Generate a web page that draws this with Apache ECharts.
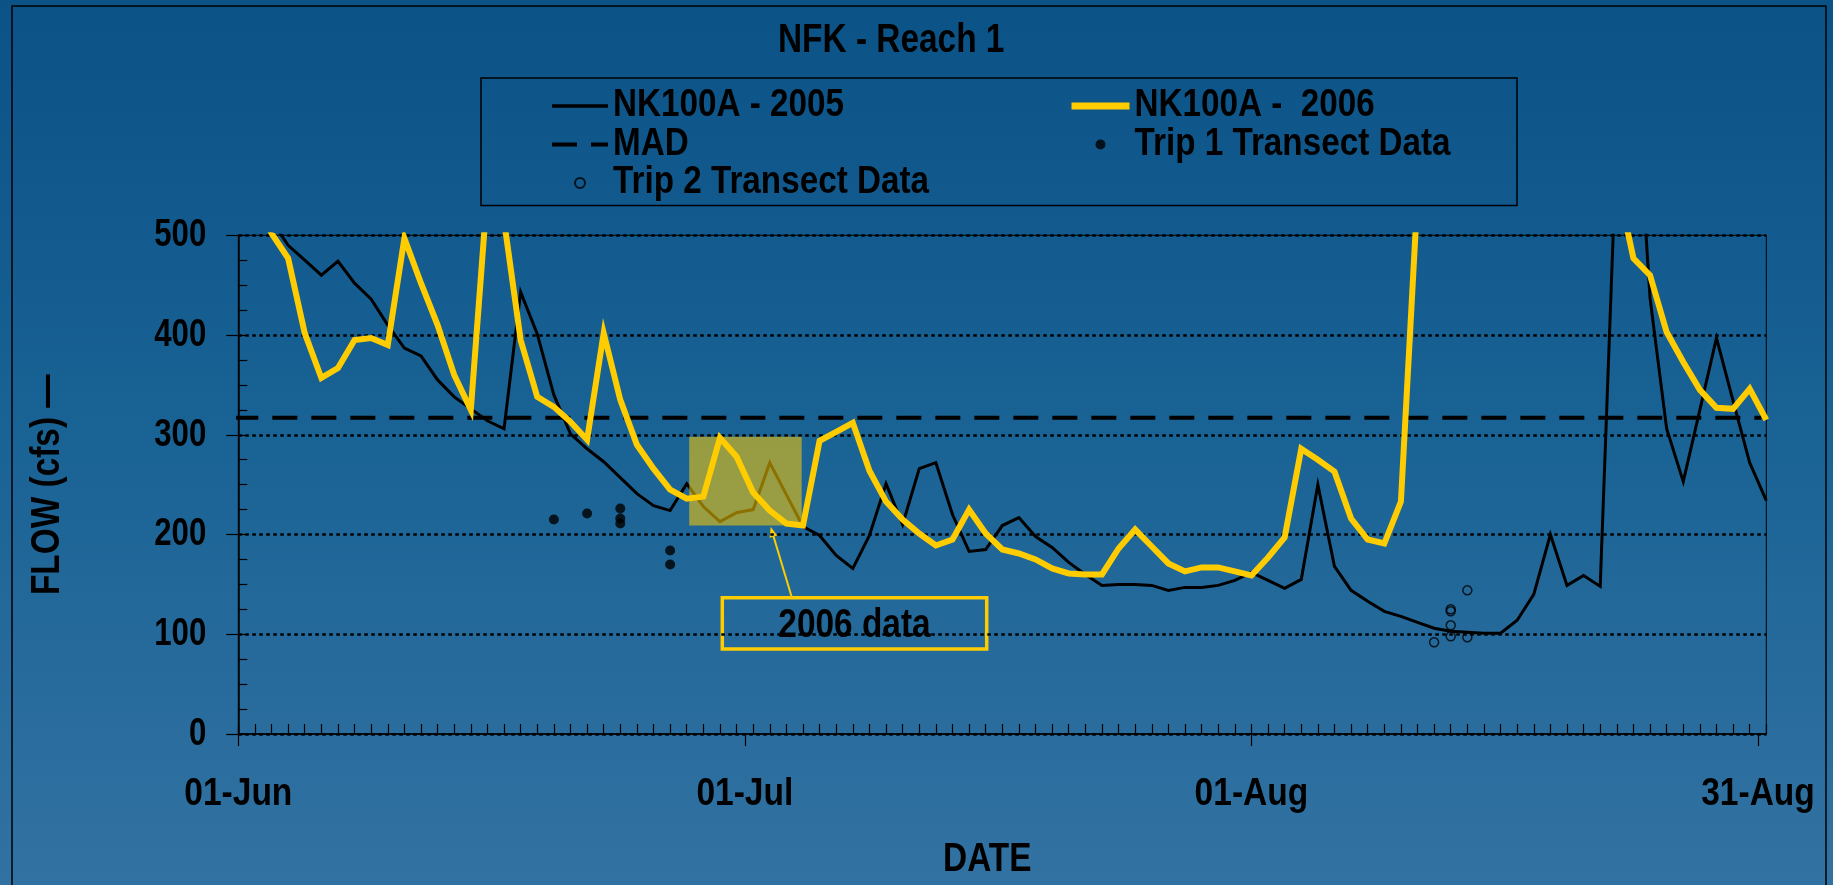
<!DOCTYPE html>
<html>
<head>
<meta charset="utf-8">
<title>NFK - Reach 1</title>
<script src="https://cdn.jsdelivr.net/npm/echarts@6.0.0/dist/echarts.min.js"></script>
<style>
  html, body { margin: 0; padding: 0; width: 100%; height: 100%; overflow: hidden; }
  #chart { width: 1833px; height: 885px; }
</style>
</head>
<body>
<div id="chart"></div>
<script>
// Daily flow (cfs), index 0 = 1 June, index 92 = 1 September
const FLOW_2005 = [
  560, 540, 515, 490, 475, 460, 474, 452, 436, 410,
  387, 379, 355, 338, 326, 314, 306, 443, 401, 340,
  301, 286, 273, 257, 241, 229, 224, 251, 228, 213,
  222, 225, 272, 240, 208, 199, 179, 166, 199, 251,
  210, 266, 272, 220, 183, 185, 209, 217, 198, 187,
  172, 160, 149, 150, 150, 149, 144, 147, 147, 149,
  154, 162, 154, 146, 155, 250, 168, 144, 133, 123,
  118, 112, 106, 103, 102, 101, 101, 114, 140, 200,
  149, 159, 148, 600, 700, 437, 306, 253, 325, 397,
  334, 272, 234
];
const FLOW_2006 = [
  580, 540, 502, 477, 402, 357, 367, 395, 397, 390,
  497, 452, 410, 360, 325, 545, 515, 395, 338, 328,
  313, 295, 402, 335, 290, 266, 245, 236, 238, 297,
  278, 242, 224, 211, 209, 294, 303, 312, 264, 233,
  215, 201, 189, 195, 225, 201, 185, 181, 175, 166,
  161, 160, 160, 186, 205, 188, 171, 163, 167, 167,
  163, 159, 177, 197, 286, 275, 263, 216, 195, 191,
  233, 540, 760, 880, 920, 870, 800, 740, 690, 650,
  620, 600, 575, 554, 477, 460, 403, 373, 345, 327,
  326, 346, 315
];

// Mean annual discharge line and the span it is drawn over (days since 1 June)
const MAD_FLOW = 317;
const MAD_SPAN = [-0.3, 91.7];

// Transect measurements (day since 1 June, flow)
const TRIP1_DAYS = [19, 21, 23, 23, 23, 26, 26];
const TRIP1_FLOW = [215, 221, 226, 216, 211, 184, 170];
const TRIP2_DAYS = [72, 73, 73, 73, 73, 74, 74];
const TRIP2_FLOW = [92, 125, 123, 109, 98, 144, 97];

// Shaded window of 2006 data: [startDay, endDay, lowFlow, highFlow]
const HIGHLIGHT_2006 = [27.15, 33.92, 209, 298];

// Axis ticks
const X_TICKS = [0, 30.5, 61, 91.5];
const X_TICK_LABELS = ['01-Jun', '01-Jul', '01-Aug', '31-Aug'];
const Y_TICK_LABELS = ['0', '100', '200', '300', '400', '500'];

// Series names as shown in the key
const NAME_2005 = 'NK100A - 2005';
const NAME_2006 = 'NK100A -  2006';
const NAME_MAD = 'MAD';
const NAME_TRIP1 = 'Trip 1 Transect Data';
const NAME_TRIP2 = 'Trip 2 Transect Data';

const FONT = "'Liberation Sans', Arial, sans-serif";
const BLACK = '#000000';
const GOLD = '#FFCC00';

// Horizontal squeeze that turns the regular face into a narrow one
const NARROW_DEFAULT = 0.835;
const NARROW_LEGEND = 0.875;
const NARROW_X_LABEL = 0.86;
const NARROW_Y_LABEL = 0.8;

const chart = echarts.init(document.getElementById('chart'), null, { renderer: 'canvas' });

const boldText = (size) => ({ color: BLACK, fontFamily: FONT, fontWeight: 'bold', fontSize: size });

const legendBase = {
  orient: 'vertical',
  top: 87,
  padding: 0,
  itemGap: 0.5,
  itemHeight: 10,
  selectedMode: false,
  textStyle: Object.assign(boldText(38), { lineHeight: 38 })
};

const option = {
  animation: false,
  backgroundColor: {
    type: 'linear', x: 0, y: 0, x2: 0, y2: 1,
    colorStops: [
      { offset: 0, color: '#0b5287' },
      { offset: 0.5, color: '#1a6395' },
      { offset: 1, color: '#3272a2' }
    ]
  },
  textStyle: { fontFamily: FONT },
  title: {
    text: 'NFK - Reach 1',
    left: 773,
    top: 16,
    textStyle: boldText(40)
  },
  legend: [
    Object.assign({}, legendBase, {
      left: 550,
      itemWidth: 56,
      data: [
        { name: NAME_2005, itemStyle: { opacity: 0 }, lineStyle: { color: BLACK, width: 3.3, type: 'solid' } },
        { name: NAME_MAD, itemStyle: { opacity: 0 }, lineStyle: { color: BLACK, width: 4, type: [25, 14] } },
        { name: NAME_TRIP2 }
      ]
    }),
    Object.assign({}, legendBase, {
      left: 1068,
      itemWidth: 58,
      data: [
        { name: NAME_2006, itemStyle: { opacity: 0 }, lineStyle: { color: GOLD, width: 7, type: 'solid' } },
        { name: NAME_TRIP1 }
      ]
    })
  ],
  grid: {
    left: 238.3,
    top: 235.3,
    right: 66.7,
    bottom: 151,
    show: true,
    borderColor: BLACK,
    borderWidth: 1,
    backgroundColor: 'transparent',
    outerBoundsMode: 'none'
  },
  xAxis: [
    {
      type: 'value',
      min: 0,
      max: 92,
      interval: 30.5,
      position: 'bottom',
      axisLine: { show: true, onZero: false, lineStyle: { color: BLACK, width: 1.5 } },
      axisTick: { show: true, inside: false, length: 12, customValues: X_TICKS, lineStyle: { color: BLACK, width: 1.2 } },
      axisLabel: Object.assign(boldText(39), {
        customValues: X_TICKS,
        margin: 41,
        formatter: (v) => {
          const i = X_TICKS.indexOf(v);
          return i >= 0 ? X_TICK_LABELS[i] : '';
        }
      }),
      splitLine: { show: false },
      name: 'DATE',
      nameLocation: 'middle',
      nameGap: 106,
      nameTextStyle: Object.assign(boldText(40), { padding: [0, 36, 0, 0] })
    },
    {
      // daily minor ticks
      type: 'value',
      min: 0,
      max: 92,
      interval: 1,
      position: 'bottom',
      axisLine: { show: false, onZero: false },
      axisTick: { show: true, inside: true, length: 10, lineStyle: { color: BLACK, width: 1.2 } },
      axisLabel: { show: false },
      splitLine: { show: false }
    }
  ],
  yAxis: [
    {
      type: 'value',
      min: 0,
      max: 500,
      interval: 100,
      position: 'left',
      axisLine: { show: true, onZero: false, lineStyle: { color: BLACK, width: 1.5 } },
      axisTick: { show: true, inside: false, length: 12, lineStyle: { color: BLACK, width: 1.2 } },
      axisLabel: Object.assign(boldText(39), { margin: 32 }),
      splitLine: { show: true, lineStyle: { color: BLACK, width: 2.5, type: [3.5, 3.5] } },
      name: 'FLOW (cfs) \u2014',
      nameLocation: 'middle',
      nameGap: 170,
      nameTextStyle: boldText(40)
    },
    {
      // minor ticks every 25 cfs
      type: 'value',
      min: 0,
      max: 500,
      interval: 25,
      position: 'left',
      axisLine: { show: false, onZero: false },
      axisTick: { show: true, inside: true, length: 9, lineStyle: { color: BLACK, width: 1.2 } },
      axisLabel: { show: false },
      splitLine: { show: false }
    }
  ],
  series: [
    {
      name: NAME_MAD,
      type: 'line',
      xAxisIndex: 0,
      yAxisIndex: 0,
      data: MAD_SPAN.map((d) => [d, MAD_FLOW]),
      symbol: 'none',
      clip: false,
      z: 3,
      itemStyle: { color: BLACK },
      lineStyle: { color: BLACK, width: 4, type: [25, 14] }
    },
    {
      name: NAME_2005,
      type: 'line',
      xAxisIndex: 0,
      yAxisIndex: 0,
      data: FLOW_2005.map((v, i) => [i, v]),
      symbol: 'none',
      clip: true,
      z: 3,
      itemStyle: { color: BLACK },
      lineStyle: { color: BLACK, width: 3, join: 'miter' }
    },
    {
      name: NAME_2006,
      type: 'line',
      xAxisIndex: 0,
      yAxisIndex: 0,
      data: FLOW_2006.map((v, i) => [i, v]),
      symbol: 'none',
      clip: true,
      z: 4,
      itemStyle: { color: GOLD },
      lineStyle: { color: GOLD, width: 6, join: 'miter' }
    },
    {
      name: '2006 window',
      type: 'custom',
      xAxisIndex: 0,
      yAxisIndex: 0,
      z: 5,
      silent: true,
      data: [HIGHLIGHT_2006],
      renderItem: (params, api) => {
        const p0 = api.coord([api.value(0), api.value(3)]);
        const p1 = api.coord([api.value(1), api.value(2)]);
        return {
          type: 'rect',
          shape: { x: p0[0], y: p0[1], width: p1[0] - p0[0], height: p1[1] - p0[1] },
          style: { fill: 'rgba(255, 204, 0, 0.55)' }
        };
      }
    },
    {
      name: NAME_TRIP1,
      type: 'scatter',
      xAxisIndex: 0,
      yAxisIndex: 0,
      data: TRIP1_DAYS.map((d, i) => [d, TRIP1_FLOW[i]]),
      symbol: 'circle',
      symbolSize: 10,
      z: 6,
      itemStyle: { color: BLACK }
    },
    {
      name: NAME_TRIP2,
      type: 'scatter',
      xAxisIndex: 0,
      yAxisIndex: 0,
      data: TRIP2_DAYS.map((d, i) => [d, TRIP2_FLOW[i]]),
      symbol: 'circle',
      symbolSize: 9,
      z: 6,
      itemStyle: { color: 'rgba(0,0,0,0)', borderColor: BLACK, borderWidth: 1.5 }
    }
  ],
  graphic: [
    {
      // outer frame
      type: 'rect',
      z: 1,
      silent: true,
      shape: { x: 12, y: 6, width: 1814, height: 900 },
      style: { fill: 'none', stroke: BLACK, lineWidth: 1.5 }
    },
    {
      // legend frame
      type: 'rect',
      z: 1,
      silent: true,
      shape: { x: 481, y: 78, width: 1036, height: 127.5 },
      style: { fill: 'none', stroke: BLACK, lineWidth: 1.5 }
    },
    {
      // callout pointing at the shaded 2006 window
      type: 'group',
      z: 20,
      silent: true,
      children: [
        {
          type: 'line',
          shape: { x1: 791.7, y1: 597, x2: 772.5, y2: 533 },
          style: { stroke: GOLD, lineWidth: 2 }
        },
        {
          type: 'polygon',
          shape: { points: [[770.7, 526.7], [777.2, 535.5], [769.6, 537.8]] },
          style: { fill: GOLD }
        },
        {
          type: 'rect',
          shape: { x: 722.3, y: 597.7, width: 264.4, height: 51.3 },
          style: { fill: 'none', stroke: GOLD, lineWidth: 3.5 }
        },
        {
          type: 'text',
          x: 854.5,
          y: 626,
          style: {
            text: '2006 data',
            fill: BLACK,
            font: 'bold 40px ' + FONT,
            align: 'center',
            verticalAlign: 'middle'
          }
        }
      ]
    }
  ]
};

chart.setOption(option);

// Squeeze each text element horizontally about its own anchor point
// (the style offset when there is one), so centred, left- and right-aligned
// labels keep their alignment.
const LEGEND_NAMES = [NAME_2005, NAME_2006, NAME_MAD, NAME_TRIP1, NAME_TRIP2];
function squeezeFor(text) {
  if (LEGEND_NAMES.indexOf(text) >= 0) return NARROW_LEGEND;
  if (X_TICK_LABELS.indexOf(text) >= 0) return NARROW_X_LABEL;
  if (Y_TICK_LABELS.indexOf(text) >= 0) return NARROW_Y_LABEL;
  return NARROW_DEFAULT;
}
function narrowTexts(instance) {
  const zr = instance.getZr();
  const squeeze = (el) => {
    if (el && el.type === 'text' && el.style) {
      if (!el.rotation) {
        el.originX = el.style.x || 0;
        el.originY = el.style.y || 0;
      }
      el.scaleX = squeezeFor(String(el.style.text));
      el.markRedraw();
    }
  };
  zr.storage.getRoots().forEach((root) => {
    squeeze(root);
    if (root.traverse) root.traverse(squeeze);
  });
  zr.refreshImmediately();
}
narrowTexts(chart);
</script>
</body>
</html>
